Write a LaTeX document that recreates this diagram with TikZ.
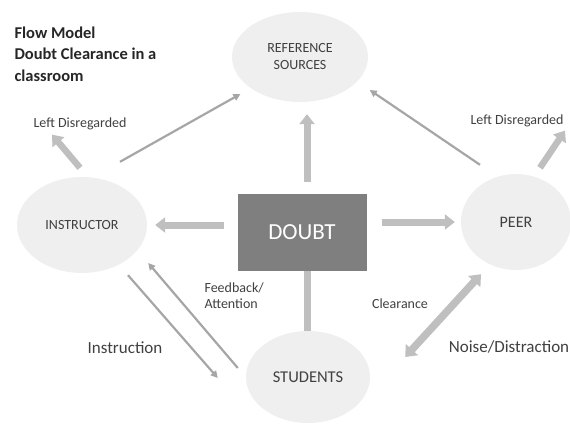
\documentclass[tikz,border=0pt]{standalone}
\usepackage{fontspec}
\setmainfont{Carlito}
\usetikzlibrary{shapes.geometric, arrows.meta, positioning}
\usepackage{xcolor}
\definecolor{dcbubble}{HTML}{EFEFEF}
\definecolor{dcbox}{HTML}{7F7F7F}
\definecolor{dcblock}{HTML}{BFBFBF}
\definecolor{dcline}{HTML}{A6A6A6}
\definecolor{dctext}{HTML}{404040}

\begin{document}
\begin{tikzpicture}[
    x=1pt, y=-1pt,
    every node/.style={align=center, text=dctext},
    dc-bubble/.style={ellipse, fill=dcbubble, draw=none, inner sep=0pt,
        font=\fontsize{14}{17}\selectfont},
    dc-doubt/.style={rectangle, fill=dcbox, draw=none,
        minimum width=129pt, minimum height=77pt,
        text=white, font=\fontsize{23}{27}\selectfont},
    dc-label/.style={font=\fontsize{14}{16}\selectfont},
    dc-biglabel/.style={font=\fontsize{17}{20}\selectfont},
    dc-block/.style={-{Triangle[length=10pt, width=15pt]}, line width=7pt, draw=dcblock},
    dc-bar/.style={line width=7pt, draw=dcblock},
    dc-both/.style={{Triangle[length=10pt, width=16pt]}-{Triangle[length=10pt, width=16pt]},
        line width=7.5pt, draw=dcblock},
    dc-arrow/.style={-{Triangle[length=7pt, width=7pt]}, line width=2.2pt, draw=dcline},
]
    \useasboundingbox (0,0) rectangle (570,423);

    % ---- NODES: bubbles ----
    \node[dc-bubble, minimum width=136pt, minimum height=90pt] (refs) at (300,57) {REFERENCE\\SOURCES};
    \node[dc-bubble, minimum width=130pt, minimum height=96pt] (instr) at (82,225) {INSTRUCTOR};
    \node[dc-bubble, minimum width=110pt, minimum height=96pt,
          font=\fontsize{16}{19}\selectfont] (peer) at (516,222) {PEER};
    \node[dc-bubble, minimum width=124pt, minimum height=92pt,
          font=\fontsize{16.5}{19}\selectfont] (stud) at (308,377) {STUDENTS};

    % ---- NODES: centre box ----
    \node[dc-doubt] (doubt) at (302,232) {DOUBT};

    % ---- NODES: labels ----
    \node[anchor=north west, align=left, text=black!85,
          font=\bfseries\fontsize{16.5}{21.5}\selectfont] (title) at (11,23)
        {Flow Model\\Doubt Clearance in a\\classroom};
    \node[dc-label] (ldis1) at (80,124) {Left Disregarded};
    \node[dc-label] (ldis2) at (517,121) {Left Disregarded};
    \node[dc-label, align=left, anchor=west] (feedb) at (201,296) {Feedback/\\Attention};
    \node[dc-label] (clear) at (400,304) {Clearance};
    \node[dc-biglabel] (noise) at (509,347) {Noise/Distraction};
    \node[dc-biglabel] (instrn) at (125,348) {Instruction};

    % ---- ARROWS: out of DOUBT ----
    \draw[dc-block, shorten <=13pt, shorten >=8pt] (doubt.west |- instr.east) -- (instr.east);
    \draw[dc-block, shorten <=15pt, shorten >=6pt] (doubt.east |- peer.west) -- (peer.west);
    \draw[dc-block, shorten <=11pt, shorten >=12pt] ([xshift=5pt]doubt.north) -- ([xshift=5pt]doubt.north |- refs.south);
    \draw[dc-bar] ([xshift=5pt]doubt.south) -- ([xshift=5pt]doubt.south |- stud.north);

    % ---- ARROWS: left disregarded ----
    \draw[dc-block, line width=6.5pt] ([shift={(-2,-9)}]instr.north) -- ([shift={(-28,1)}]ldis1.south);
    \draw[dc-block, line width=6.5pt] ([shift={(24,-6)}]peer.north) -- ([shift={(48,0)}]ldis2.south);

    % ---- ARROWS: to reference sources ----
    \draw[dc-arrow] ([shift={(38,-15)}]instr.north) -- ([shift={(-10,6)}]refs.212);
    \draw[dc-arrow] ([shift={(-36,-9)}]peer.north) -- ([shift={(14,7)}]refs.335);

    % ---- ARROWS: instructor <-> students ----
    \draw[dc-arrow] ([shift={(46,2)}]instr.south) -- ([shift={(-28,1)}]stud.west);
    \draw[dc-arrow] ([shift={(-8,-9)}]stud.west) -- ([shift={(1,38)}]instr.east);

    % ---- ARROWS: students <-> peer ----
    \draw[dc-both] ([shift={(35,-20)}]stud.east) -- ([shift={(-35,4)}]peer.south);

\end{tikzpicture}
\end{document}
